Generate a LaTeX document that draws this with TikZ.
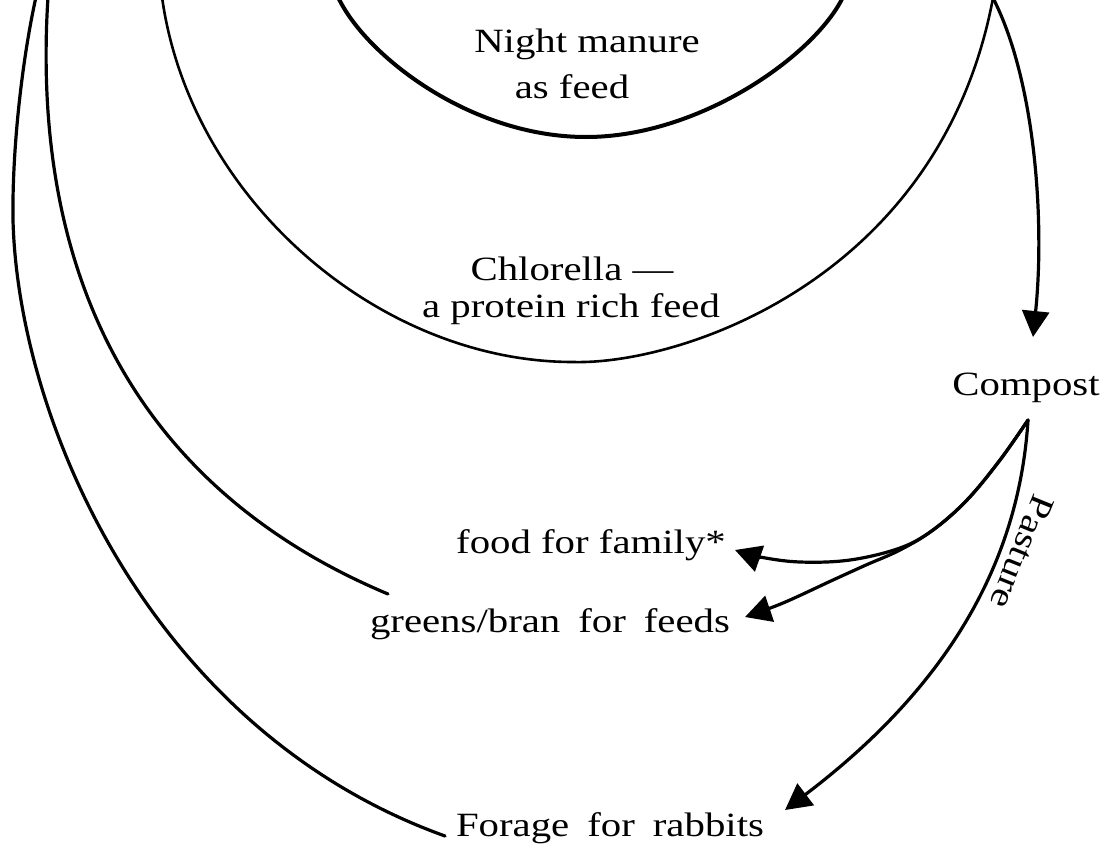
\documentclass[tikz,border=0pt]{standalone}
\usepackage{fontspec}
\setmainfont{Liberation Serif}[FakeStretch=1.2]
\usetikzlibrary{arrows.meta}
\begin{document}
\begin{tikzpicture}[x=1pt,y=-1pt,
  lbl/.style={font=\fontsize{34}{40}\selectfont, inner sep=0pt, anchor=base},
  wide/.style={execute at begin node={\spaceskip=18pt plus 2pt\relax}},
  curve/.style={line width=3.2pt, line cap=round, line join=round},
  tip/.style={-{Triangle[length=26pt,width=27pt]}}]
\useasboundingbox (0,0) rectangle (1107,844);
\fill[white] (0,0) rectangle (1107,844);

% text nodes
\node[lbl] (night1) at (587,52) {Night manure};
\node[lbl] (night2) at (572,98) {as feed};
\node[lbl] (chl1) at (572,280) {Chlorella ---};
\node[lbl] (chl2) at (571,317) {a protein rich feed};
\node[lbl] (compost) at (1026,395) {Compost};
\node[lbl] (food) at (591,553) {food for family*};
\node[lbl, wide] (greens) at (550,632) {greens/bran for feeds};
\node[lbl, wide] (forage) at (610,836) {Forage for rabbits};
\node[font=\fontsize{34}{40}\selectfont, inner sep=0pt, rotate=-112] (pasture) at (1022,552) {Pasture};

% named free ends
\coordinate (nmL) at (338,-3);
\coordinate (nmB) at (586,137);
\coordinate (nmR) at (843,-3);
\coordinate (chL) at (162,-3);
\coordinate (chB) at (573,362);
\coordinate (cusp) at (993,-2);
\coordinate (inTop) at (48,-3);
\coordinate (inEnd) at (388,594);
\coordinate (outTop) at (36,-3);
\coordinate (outMid) at (13,220);
\coordinate (outEnd) at (445,836);
\coordinate (cmpIn) at (1033,337);
\coordinate (cmpOut) at (1028,420);
\coordinate (foodTip) at (735,550);
\coordinate (greensTip) at (745,617);
\coordinate (forageTip) at (785,810);

% Night manure loop
\draw[curve, line width=4pt] (nmL) .. controls (365,55) and (470,137) .. (nmB)
  .. controls (700,137) and (815,55) .. (nmR);

% Chlorella loop
\draw[curve, line width=2.6pt] (chL) .. controls (190,200) and (380,362) .. (chB)
  .. controls (680,365) and (940,280) .. (cusp);

% down to Compost
\draw[curve, tip] (cusp) .. controls (1035,80) and (1045,220) .. (cmpIn);

% inner left curve to greens/bran
\draw[curve] (inTop) .. controls (30,280) and (140,490) .. (inEnd);

% outer left curve to forage
\draw[curve] (outTop) .. controls (22,60) and (12,150) .. (outMid)
  .. controls (18,420) and (150,730) .. (outEnd);

% Compost to food
\draw[curve, tip] plot[smooth, tension=0.6] coordinates
  {(cmpOut) (1000,460) (967,500) (933,530) (900,548) (850,560) (800,562) (760,557) (foodTip)};

% Compost to greens
\draw[curve, tip] plot[smooth, tension=0.6] coordinates
  {(cmpOut) (1000,460) (967,500) (933,530) (900,550) (866,565) (833,580) (783,603) (greensTip)};

% Compost to forage (pasture)
\draw[curve, tip] (cmpOut) .. controls (1018,580) and (930,700) .. (forageTip);
\end{tikzpicture}
\end{document}
